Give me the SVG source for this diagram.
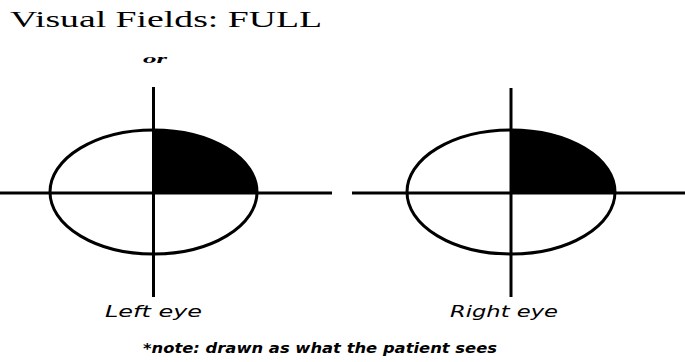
<svg xmlns="http://www.w3.org/2000/svg" width="685" height="362" viewBox="0 0 685 362">
<style>
.ax{stroke:#000;stroke-width:3;fill:none}
.el{stroke:#000;stroke-width:3;fill:none}
.q{fill:#000}
.hand{font-family:"DejaVu Sans","Liberation Sans",sans-serif;font-style:italic;fill:#000}
</style>
<rect width="685" height="362" fill="#fff"/>
<text x="10" y="27" font-family="Liberation Serif, serif" font-size="24" textLength="312" lengthAdjust="spacingAndGlyphs">Visual Fields: FULL</text>
<text x="143" y="63" font-family="Liberation Serif, serif" font-size="13" font-weight="bold" font-style="italic" textLength="24" lengthAdjust="spacingAndGlyphs">or</text>
<g id="left-eye">
<path class="q" d="M153.5,192 V130 A103.5,62 0 0 1 257,192 Z"/>
<ellipse class="el" cx="153.5" cy="192" rx="103.5" ry="62"/>
<line class="ax" x1="0" y1="193" x2="332" y2="193"/>
<line class="ax" x1="153.5" y1="87" x2="153.5" y2="297"/>
<text class="hand" x="105" y="317" font-size="16" textLength="97" lengthAdjust="spacingAndGlyphs">Left eye</text>
</g>
<g id="right-eye">
<path class="q" d="M511,192 V130 A104,62 0 0 1 615,192 Z"/>
<ellipse class="el" cx="511" cy="192" rx="104" ry="62"/>
<line class="ax" x1="352" y1="193" x2="685" y2="193"/>
<line class="ax" x1="511" y1="88" x2="511" y2="297"/>
<text class="hand" x="450" y="317" font-size="16" textLength="108" lengthAdjust="spacingAndGlyphs">Right eye</text>
</g>
<g id="connectors"/>
<text class="hand" x="143" y="353" font-size="14" font-weight="bold" textLength="354" lengthAdjust="spacingAndGlyphs">*note: drawn as what the patient sees</text>
</svg>
